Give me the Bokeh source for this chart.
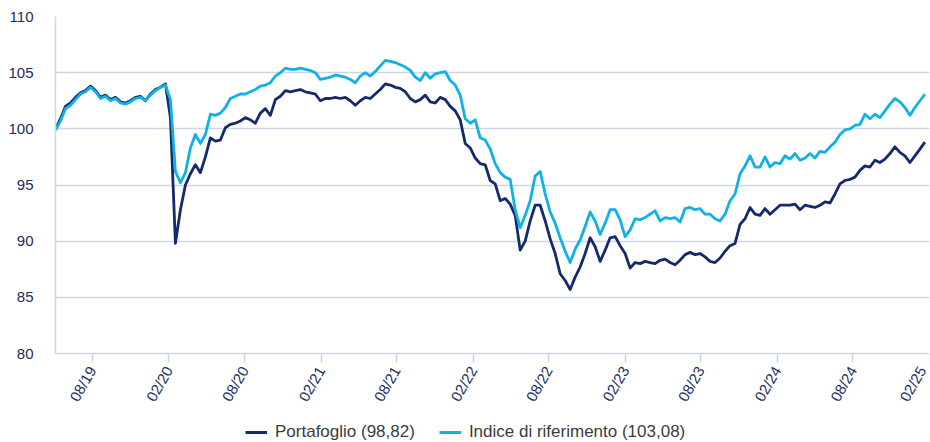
import pandas as pd
from bokeh.plotting import figure
from bokeh.layouts import column
from bokeh.models import Range1d, FixedTicker, Legend, LegendItem, ColumnDataSource
from bokeh.embed import file_html
from bokeh.resources import INLINE

# ---- data ----
start_date = "2019-05-05"
step = "12D"

portafoglio = [
    100.0, 100.9, 102.0, 102.3, 102.8, 103.2, 103.4, 103.8, 103.4, 102.8,
    103.0, 102.6, 102.8, 102.4, 102.3, 102.5, 102.8, 102.9, 102.5, 103.1,
    103.5, 103.7, 104.0, 101.0, 89.8, 92.8, 95.0, 96.0, 96.8, 96.1,
    97.5, 99.2, 98.9, 99.0, 100.1, 100.4, 100.5, 100.7, 101.0, 100.8,
    100.5, 101.4, 101.8, 101.2, 102.6, 102.9, 103.4, 103.3, 103.4, 103.5,
    103.3, 103.2, 103.1, 102.5, 102.7, 102.7, 102.8, 102.7, 102.8, 102.5,
    102.1, 102.5, 102.8, 102.7, 103.1, 103.5, 104.0, 103.9, 103.7, 103.6,
    103.3, 102.7, 102.4, 102.6, 103.0, 102.4, 102.3, 102.8, 102.6, 102.0,
    101.6, 100.8, 98.7, 98.3, 97.4, 96.9, 96.8, 95.4, 95.1, 93.6,
    93.8, 93.3, 92.3, 89.2, 90.0, 91.8, 93.2, 93.2, 91.8, 90.2,
    88.9, 87.1, 86.5, 85.7, 86.8, 87.7, 88.9, 90.3, 89.5, 88.2,
    89.2, 90.3, 90.4, 89.6, 88.9, 87.6, 88.1, 88.0, 88.2, 88.1,
    88.0, 88.3, 88.4, 88.1, 87.9, 88.3, 88.8, 89.0, 88.8, 88.9,
    88.6, 88.2, 88.1, 88.5, 89.1, 89.6, 89.8, 91.5, 92.0, 93.0,
    92.4, 92.3, 92.9, 92.4, 92.8, 93.2, 93.2, 93.2, 93.3, 92.8,
    93.2, 93.1, 93.0, 93.2, 93.5, 93.4, 94.2, 95.1, 95.4, 95.5,
    95.7, 96.3, 96.7, 96.6, 97.2, 97.0, 97.3, 97.8, 98.4, 97.9,
    97.6, 97.0, 97.6, 98.2, 98.82,
]

indice = [
    99.9, 100.7, 101.8, 102.1, 102.6, 103.1, 103.3, 103.7, 103.3, 102.7,
    102.9, 102.5, 102.7, 102.3, 102.2, 102.4, 102.7, 102.8, 102.5, 103.0,
    103.4, 103.7, 103.9, 102.6, 96.2, 95.2, 96.1, 98.3, 99.5, 98.7,
    99.5, 101.3, 101.2, 101.4, 101.9, 102.7, 102.9, 103.1, 103.1, 103.3,
    103.5, 103.8, 103.9, 104.1, 104.7, 105.0, 105.4, 105.3, 105.3, 105.4,
    105.3, 105.2, 105.0, 104.4, 104.5, 104.6, 104.8, 104.7, 104.6, 104.4,
    104.1, 104.7, 105.0, 104.7, 105.1, 105.6, 106.1, 106.0, 105.9, 105.7,
    105.5, 105.2, 104.6, 104.3, 105.0, 104.5, 104.9, 105.0, 105.1, 104.3,
    103.9, 103.0, 100.9, 100.5, 100.8, 99.2, 99.0, 98.2, 96.9, 96.1,
    95.7, 95.5, 92.8, 91.2, 92.3, 93.6, 95.8, 96.2, 94.2, 92.6,
    91.6, 90.3, 89.1, 88.1, 89.3, 90.1, 91.3, 92.6, 91.8, 90.6,
    91.6, 92.8, 92.8, 91.9, 90.4, 91.0, 92.0, 91.9, 92.1, 92.4,
    92.7, 91.8, 92.1, 92.0, 92.1, 91.7, 92.9, 93.0, 92.8, 92.9,
    92.4, 92.4, 92.0, 91.8, 92.4, 93.6, 94.2, 96.0, 96.7, 97.6,
    96.6, 96.6, 97.5, 96.6, 97.0, 96.9, 97.6, 97.3, 97.8, 97.2,
    97.4, 97.8, 97.4, 98.0, 97.9, 98.4, 98.8, 99.5, 99.9, 100.0,
    100.3, 100.4, 101.3, 100.9, 101.3, 101.0, 101.6, 102.2, 102.7, 102.4,
    101.9, 101.2, 101.9, 102.5, 103.08,
]

series_names = ["Portafoglio (98,82)", "Indice di riferimento (103,08)"]

tick_dates = ["2019-08-01", "2020-02-01", "2020-08-01", "2021-02-01",
              "2021-08-01", "2022-02-01", "2022-08-01", "2023-02-01",
              "2023-08-01", "2024-02-01", "2024-08-01", "2025-02-01"]
tick_labels = ["08/19", "02/20", "08/20", "02/21", "08/21", "02/22",
               "08/22", "02/23", "08/23", "02/24", "08/24", "02/25"]
y_ticks = [80, 85, 90, 95, 100, 105, 110]
x_start, x_end = "2019-05-05", "2025-02-01"

# ---- build ----
dates = pd.date_range(start_date, periods=len(portafoglio), freq=step)
src = ColumnDataSource(dict(date=dates, port=portafoglio, idx=indice))

def ms(d):
    return pd.Timestamp(d).value / 1e6

FONT = "Liberation Sans"
NAVY = "#1b2c5e"
GRID = "#cdd6e4"
DARK = "#142a6a"
LIGHT = "#10b1e7"
W = 929

p = figure(width=W, height=411, output_backend="svg", toolbar_location=None,
           x_axis_type="datetime",
           x_range=Range1d(ms(x_start), ms(x_end)), y_range=Range1d(80, 110),
           min_border_left=55, min_border_right=0, min_border_top=16,
           min_border_bottom=58)
p.outline_line_color = None
p.background_fill_color = "white"
p.border_fill_color = "white"

r1 = p.line("date", "port", source=src, line_color=DARK, line_width=2.8,
            line_join="round")
r2 = p.line("date", "idx", source=src, line_color=LIGHT, line_width=2.8,
            line_join="round")

# x axis
xa = p.xaxis[0]
xa.ticker = FixedTicker(ticks=[ms(d) for d in tick_dates])
xa.major_label_overrides = {ms(d): l for d, l in zip(tick_dates, tick_labels)}
xa.major_label_orientation = 1.0472
xa.major_label_text_font = FONT
xa.major_label_text_font_size = "15px"
xa.major_label_text_color = NAVY
xa.major_label_standoff = 5
xa.axis_line_color = GRID
xa.axis_line_width = 1.5
xa.major_tick_line_color = GRID
xa.major_tick_line_width = 1.5
xa.major_tick_out = 9
xa.major_tick_in = 0
xa.minor_tick_line_color = None

# y axis
ya = p.yaxis[0]
ya.ticker = FixedTicker(ticks=y_ticks)
ya.major_label_text_font = FONT
ya.major_label_text_font_size = "15px"
ya.major_label_text_color = NAVY
ya.major_label_standoff = 22
ya.axis_line_color = GRID
ya.axis_line_width = 1.5
ya.major_tick_line_color = None
ya.major_tick_out = 0
ya.minor_tick_line_color = None

p.xgrid.grid_line_color = None
p.ygrid.grid_line_color = GRID
p.ygrid.grid_line_width = 1.5

# ---- legend strip (separate small figure under the chart) ----
lg = figure(width=W, height=31, output_backend="svg", toolbar_location=None,
            x_range=Range1d(0, 1), y_range=Range1d(0, 1),
            x_axis_location=None, y_axis_location=None,
            min_border_left=55, min_border_right=0, min_border_top=0,
            min_border_bottom=0)
lg.outline_line_color = None
lg.xgrid.grid_line_color = None
lg.ygrid.grid_line_color = None
# legend keys only (their points lie outside the strip's visible range)
k1 = lg.line([-2, -1], [-2, -1], line_color=DARK, line_width=3)
k2 = lg.line([-2, -1], [-2, -1], line_color=LIGHT, line_width=3)

legend = Legend(items=[LegendItem(label=series_names[0], renderers=[k1]),
                       LegendItem(label=series_names[1], renderers=[k2])],
                orientation="horizontal", location=(190, 0))
legend.label_text_font = FONT
legend.label_text_font_size = "17px"
legend.label_text_color = "#3c3c3c"
legend.glyph_width = 22
legend.glyph_height = 18
legend.label_height = 18
legend.label_standoff = 8
legend.spacing = 24
legend.padding = 0
legend.margin = 0
legend.border_line_color = None
legend.background_fill_alpha = 0
lg.add_layout(legend, "center")

layout = column(p, lg, spacing=0)
open("out.html", "w").write(file_html(layout, INLINE))
